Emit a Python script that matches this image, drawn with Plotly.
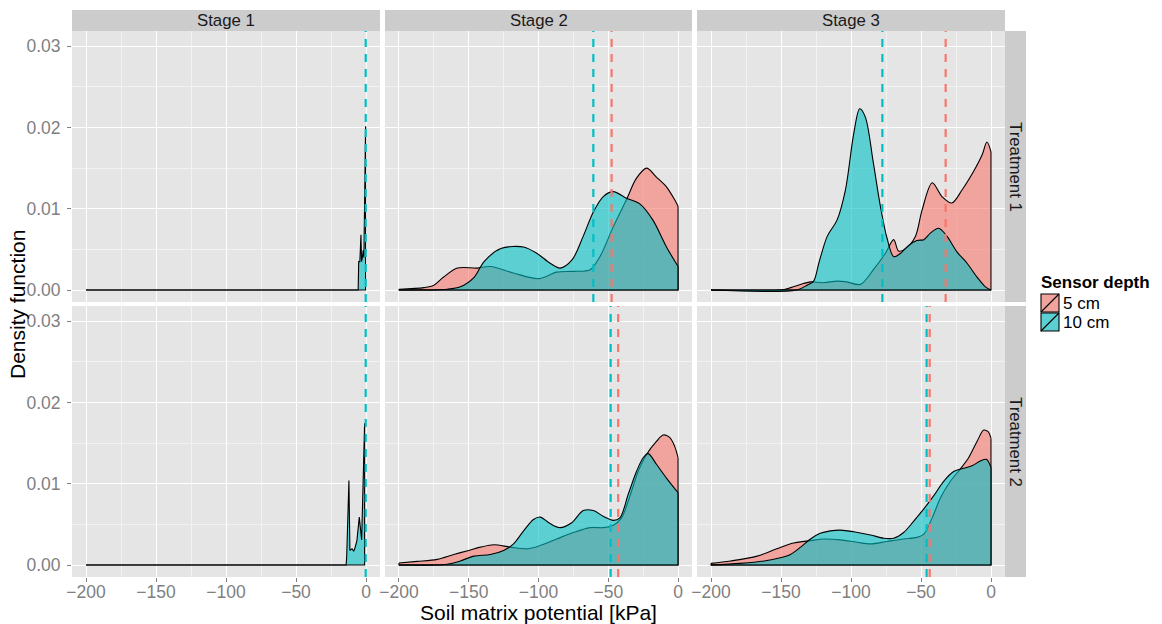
import plotly.graph_objects as go

W, H = 1162, 624

stages = ["Stage 1", "Stage 2", "Stage 3"]
treatments = ["Treatment 1", "Treatment 2"]
depths = ["5 cm", "10 cm"]

# ---- density estimates: soil matrix potential [kPa] vs density ----
# Stage 1 (only the 10 cm sensor recorded)
s1t1_10_x = [-200, -5.6, -5.2, -4.4, -3.6, -3.2, -2.6, -2.0, -1.5, -0.3]
s1t1_10_y = [0, 0, 0.0035, 0.0035, 0.0068, 0.0035, 0.0040, 0.0049, 0.0040, 0.0201]

s1t2_10_x = [-200, -14.2, -13.8, -12.2, -11.5, -10.0, -8.8, -7.9, -6.5, -4.8, -3.1, -1.0]
s1t2_10_y = [0, 0, 0.0010, 0.0104, 0.0018, 0.0020, 0.0017, 0.0021, 0.0030, 0.0059, 0.0031, 0.0174]

# Stage 2, Treatment 1
s2t1_5_x = [-200, -182, -175, -168, -158, -144, -134.5, -118, -100, -87, -75, -63, -56, -46.4,
            -37, -30, -22.6, -15.5, -8.3, -2.4, 0]
s2t1_5_y = [0.0001, 0.0003, 0.0006, 0.0016, 0.0027, 0.0027, 0.0029, 0.0021, 0.0014, 0.0022,
            0.0023, 0.0025, 0.0041, 0.0078, 0.0111, 0.0137, 0.0150, 0.0139, 0.0127, 0.0111, 0.0103]
s2t1_10_x = [-200, -165.5, -156, -146, -139, -127, -110.7, -101, -91.7, -84.5, -76, -68, -60.7,
             -53.6, -46.4, -37, -27.4, -18, -8.3, 0]
s2t1_10_y = [0, 0.0001, 0.0004, 0.0016, 0.0035, 0.0051, 0.0053, 0.0045, 0.0033, 0.0027, 0.0037,
             0.0066, 0.0096, 0.0115, 0.0121, 0.0113, 0.0106, 0.0086, 0.0053, 0.0029]

# Stage 3, Treatment 1
s3t1_5_x = [-200, -150.5, -143, -134, -129, -119.5, -110, -103, -93.3, -84, -75.5, -69.5, -66,
            -61, -54, -49.3, -42, -35, -28, -20.7, -12.4, -6.4, -2.9, 0]
s3t1_5_y = [0, 0, 0.0003, 0.0008, 0.0010, 0.0009, 0.0011, 0.0010, 0.0007, 0.0025, 0.0045,
            0.0062, 0.0048, 0.0051, 0.0066, 0.0098, 0.0132, 0.0115, 0.0107, 0.0123, 0.0146,
            0.0166, 0.0182, 0.0170]
s3t1_10_x = [-200, -138.6, -131.4, -126.7, -123, -117, -110, -104, -98, -93.8, -89.8, -84, -79,
             -74.3, -69.5, -64.8, -58.8, -52.9, -48, -43.3, -37.4, -31.4, -24.3, -17.1, -10,
             -4, 0]
s3t1_10_y = [0, 0, 0.0006, 0.0011, 0.0033, 0.0066, 0.0086, 0.0123, 0.0193, 0.0223, 0.0213,
             0.0156, 0.0103, 0.0064, 0.0041, 0.0045, 0.0055, 0.0061, 0.0062, 0.0070, 0.0076,
             0.0066, 0.0047, 0.0033, 0.0016, 0.0004, 0]

# Stage 2, Treatment 2
s2t2_5_x = [-200, -187, -172.6, -160.7, -150, -141.7, -132, -120, -108, -98.8, -87, -75, -63,
            -53.6, -46.4, -40.5, -34.5, -28.6, -22.6, -15.5, -10.7, -6, -2.4, 0]
s2t2_5_y = [0.00025, 0.00045, 0.0007, 0.0013, 0.0018, 0.0022, 0.0025, 0.0022, 0.0020, 0.0024,
            0.0032, 0.0040, 0.0046, 0.0046, 0.0049, 0.0058, 0.0085, 0.0115, 0.0136, 0.0152,
            0.0160, 0.0157, 0.0146, 0.0132]
s2t2_10_x = [-200, -165.5, -156, -146.4, -134.5, -125, -117.9, -110.7, -103.6, -98.8, -91.7,
             -84.5, -76.2, -67.9, -60.7, -53.6, -46.4, -41.7, -35.7, -29.8, -25, -21.4, -15.5,
             -8.3, 0]
s2t2_10_y = [0, 0.0001, 0.0005, 0.0011, 0.0013, 0.0018, 0.0026, 0.0042, 0.0056, 0.0059, 0.0051,
             0.0046, 0.0052, 0.0067, 0.0067, 0.0060, 0.0055, 0.0058, 0.0087, 0.0115, 0.0132,
             0.0137, 0.0124, 0.0107, 0.0089]

# Stage 3, Treatment 2
s3t2_5_x = [-200, -186, -167, -153, -141, -129, -119.5, -107.6, -95.7, -86, -74.3, -62.4, -52.9,
            -48, -42, -36, -29, -22, -16, -10, -5.2, -2.1, 0]
s3t2_5_y = [0.0002, 0.0005, 0.0011, 0.0020, 0.0027, 0.0030, 0.0032, 0.0031, 0.0028, 0.0026,
            0.0029, 0.0032, 0.0034, 0.0038, 0.0058, 0.0083, 0.0103, 0.0118, 0.0132, 0.0152,
            0.0166, 0.0164, 0.0156]
s3t2_10_x = [-200, -179, -162, -150.5, -143.3, -136, -129, -122, -114.8, -107.6, -98, -86, -76.7,
             -69.5, -62.4, -55.2, -48, -41, -33.8, -26.7, -19.5, -13.6, -7.6, -3.3, 0]
s3t2_10_y = [0, 0.0002, 0.0005, 0.0009, 0.0013, 0.0022, 0.0032, 0.0039, 0.0042, 0.0043, 0.0041,
             0.0037, 0.0033, 0.0033, 0.0040, 0.0054, 0.0069, 0.0085, 0.0103, 0.0115, 0.0119,
             0.0122, 0.0128, 0.0130, 0.0120]

# mean potential per group (dashed reference lines)
mean_5cm = {(0, 1): -47.6, (0, 2): -32.4, (1, 1): -42.9, (1, 2): -43.8}
mean_10cm = {(0, 0): -0.2, (0, 1): -60.7, (0, 2): -77.6, (1, 0): -0.2, (1, 1): -48.3, (1, 2): -46.0}

curves = {
    (0, 0): {"10 cm": (s1t1_10_x, s1t1_10_y)},
    (1, 0): {"10 cm": (s1t2_10_x, s1t2_10_y)},
    (0, 1): {"5 cm": (s2t1_5_x, s2t1_5_y), "10 cm": (s2t1_10_x, s2t1_10_y)},
    (0, 2): {"5 cm": (s3t1_5_x, s3t1_5_y), "10 cm": (s3t1_10_x, s3t1_10_y)},
    (1, 1): {"5 cm": (s2t2_5_x, s2t2_5_y), "10 cm": (s2t2_10_x, s2t2_10_y)},
    (1, 2): {"5 cm": (s3t2_5_x, s3t2_5_y), "10 cm": (s3t2_10_x, s3t2_10_y)},
}

x_ticks = [-200, -150, -100, -50, 0]
x_tick_text = ["\u2212200", "\u2212150", "\u2212100", "\u221250", "0"]
y_ticks = [0.0, 0.01, 0.02, 0.03]

# ---- styling ----
line_col = {"5 cm": "#F8766D", "10 cm": "#00BFC4"}
fill_col = {"5 cm": "rgba(248,118,109,0.6)", "10 cm": "rgba(0,191,196,0.6)"}
PANEL_BG = "#E5E5E5"
STRIP_BG = "#CCCCCC"
TICK_GREY = "#7F7F7F"
FONT = "Liberation Sans, Arial, sans-serif"
TICK_SIZE = 17.5
STRIP_SIZE = 16.8
TITLE_SIZE = 21

col_px = [(72, 380), (385, 692), (697, 1005)]
row_px = [(31, 302), (306, 577)]
X_RANGE = [-210, 10]
Y_RANGE = [-0.00147, 0.03186]


def px_x(v):
    return v / W


def px_y(v):
    return 1 - v / H


fig = go.Figure()
layout = {}
shapes = []
annotations = []

for r in range(2):
    for c in range(3):
        idx = r * 3 + c + 1
        xa = "x" if idx == 1 else f"x{idx}"
        ya = "y" if idx == 1 else f"y{idx}"
        xkey = "xaxis" if idx == 1 else f"xaxis{idx}"
        ykey = "yaxis" if idx == 1 else f"yaxis{idx}"
        x0, x1 = col_px[c]
        y0, y1 = row_px[r]
        layout[xkey] = dict(
            domain=[px_x(x0), px_x(x1)], range=X_RANGE, anchor=ya,
            tickvals=x_ticks, ticktext=x_tick_text,
            showticklabels=(r == 1), ticks="outside" if r == 1 else "",
            ticklen=4, tickcolor=TICK_GREY, tickwidth=1, ticklabelstandoff=-5,
            tickfont=dict(family=FONT, size=TICK_SIZE, color=TICK_GREY),
            showgrid=True, gridcolor="white", gridwidth=1.1, zeroline=False,
            showline=False, fixedrange=True, automargin=False,
            minor=dict(tickvals=[-175, -125, -75, -25], showgrid=True,
                       gridcolor="#F2F2F2", gridwidth=0.6),
        )
        layout[ykey] = dict(
            domain=[px_y(y1), px_y(y0)], range=Y_RANGE, anchor=xa,
            tickvals=y_ticks, tickformat=".2f",
            showticklabels=(c == 0), ticks="outside" if c == 0 else "",
            ticklen=4, tickcolor=TICK_GREY, tickwidth=1, ticklabelstandoff=3,
            tickfont=dict(family=FONT, size=TICK_SIZE, color=TICK_GREY),
            showgrid=True, gridcolor="white", gridwidth=1.1, zeroline=False,
            showline=False, fixedrange=True, automargin=False,
            minor=dict(tickvals=[0.005, 0.015, 0.025], showgrid=True,
                       gridcolor="#F2F2F2", gridwidth=0.6),
        )

        # density areas: 5 cm first, 10 cm on top
        for d in depths:
            if d not in curves[(r, c)]:
                continue
            xs, ys = curves[(r, c)][d]
            shape = "linear" if c == 0 else "spline"
            fig.add_trace(go.Scatter(
                x=xs, y=ys, xaxis=xa, yaxis=ya, mode="lines",
                line=dict(color="black", width=1.1, shape=shape, smoothing=0.9),
                fill="tozeroy", fillcolor=fill_col[d], showlegend=False,
                hoverinfo="skip"))
            # polygon edges: ends of the estimate down to zero and baseline
            fig.add_trace(go.Scatter(
                x=[xs[0], xs[0], xs[-1], xs[-1]], y=[ys[0], 0, 0, ys[-1]],
                xaxis=xa, yaxis=ya, mode="lines",
                line=dict(color="black", width=1.1), showlegend=False,
                hoverinfo="skip"))

        # dashed means
        for d, means in (("5 cm", mean_5cm), ("10 cm", mean_10cm)):
            if (r, c) in means:
                m = means[(r, c)]
                fig.add_trace(go.Scatter(
                    x=[m, m], y=Y_RANGE, xaxis=xa, yaxis=ya, mode="lines",
                    line=dict(color=line_col[d], width=2.2, dash="8px,7px"),
                    showlegend=False, hoverinfo="skip"))

# facet strips
for c, name in enumerate(stages):
    x0, x1 = col_px[c]
    shapes.append(dict(type="rect", xref="paper", yref="paper",
                       x0=px_x(x0), x1=px_x(x1), y0=px_y(31), y1=px_y(10),
                       fillcolor=STRIP_BG, line=dict(width=0), layer="below"))
    annotations.append(dict(text=name, xref="paper", yref="paper",
                            x=px_x((x0 + x1) / 2), y=px_y(21), showarrow=False,
                            font=dict(family=FONT, size=STRIP_SIZE, color="#1A1A1A"),
                            xanchor="center", yanchor="middle"))
for r, name in enumerate(treatments):
    y0, y1 = row_px[r]
    shapes.append(dict(type="rect", xref="paper", yref="paper",
                       x0=px_x(1005), x1=px_x(1026), y0=px_y(y1), y1=px_y(y0),
                       fillcolor=STRIP_BG, line=dict(width=0), layer="below"))
    annotations.append(dict(text=name, xref="paper", yref="paper",
                            x=px_x(1015.5), y=px_y((y0 + y1) / 2), showarrow=False,
                            textangle=90,
                            font=dict(family=FONT, size=STRIP_SIZE, color="#1A1A1A"),
                            xanchor="center", yanchor="middle"))

# axis titles
annotations.append(dict(text="Soil matrix potential [kPa]", xref="paper", yref="paper",
                        x=px_x(538), y=px_y(612.5), showarrow=False,
                        font=dict(family=FONT, size=TITLE_SIZE, color="black"),
                        xanchor="center", yanchor="middle"))
annotations.append(dict(text="Density function", xref="paper", yref="paper",
                        x=px_x(17), y=px_y(305), showarrow=False, textangle=-90,
                        font=dict(family=FONT, size=TITLE_SIZE, color="black"),
                        xanchor="center", yanchor="middle"))

# legend
annotations.append(dict(text="<b>Sensor depth</b>", xref="paper", yref="paper",
                        x=px_x(1039), y=px_y(283), showarrow=False,
                        font=dict(family=FONT, size=17, color="black"),
                        xanchor="left", yanchor="middle"))
key_top = [294, 313]
for d, top in zip(depths, key_top):
    kx0, kx1 = 1041, 1059
    ky0, ky1 = top, top + 18
    shapes.append(dict(type="rect", xref="paper", yref="paper",
                       x0=px_x(kx0), x1=px_x(kx1), y0=px_y(ky1), y1=px_y(ky0),
                       fillcolor=PANEL_BG, line=dict(width=0)))
    shapes.append(dict(type="rect", xref="paper", yref="paper",
                       x0=px_x(kx0), x1=px_x(kx1), y0=px_y(ky1), y1=px_y(ky0),
                       fillcolor=fill_col[d], line=dict(color="black", width=1.1)))
    shapes.append(dict(type="line", xref="paper", yref="paper",
                       x0=px_x(kx0), x1=px_x(kx1), y0=px_y(ky1), y1=px_y(ky0),
                       line=dict(color="black", width=1.1)))
    annotations.append(dict(text=d, xref="paper", yref="paper",
                            x=px_x(1061), y=px_y(top + 9.5), showarrow=False,
                            font=dict(family=FONT, size=17, color="black"),
                            xanchor="left", yanchor="middle"))

fig.update_layout(
    width=W, height=H, margin=dict(l=0, r=0, t=0, b=0),
    paper_bgcolor="white", plot_bgcolor=PANEL_BG,
    showlegend=False, shapes=shapes, annotations=annotations,
    **layout,
)

fig.write_html("out.html")
